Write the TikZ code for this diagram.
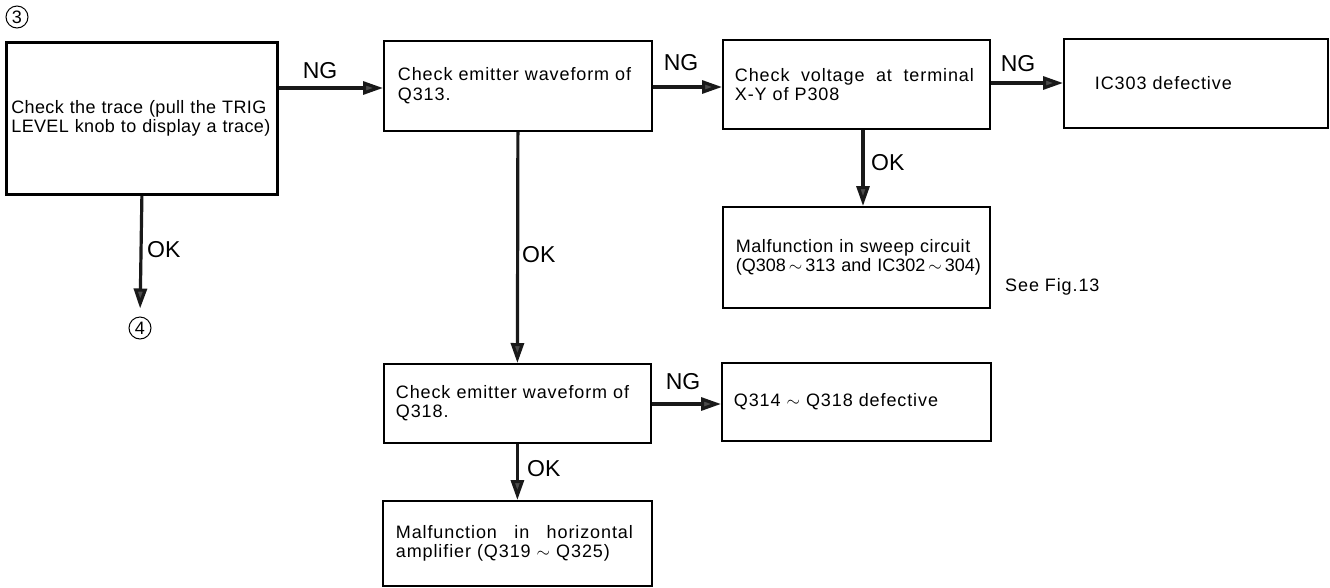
\documentclass[tikz,border=0pt]{standalone}
\usepackage{fontspec}
\setmainfont{Liberation Sans}
\usetikzlibrary{arrows.meta,positioning}
\newcommand{\boxfont}{\fontsize{18}{19.5}\selectfont\addfontfeature{LetterSpace=5}}
\newcommand{\lblfont}{\fontsize{23}{25}\selectfont}
\newcommand{\lsp}[1]{\addfontfeature{LetterSpace=#1}}
\begin{document}
\begin{tikzpicture}[x=1pt,y=-1pt,
  fbox/.style={draw=black, line width=1.8pt, rectangle, align=left, inner ysep=0pt,
    font=\boxfont, anchor=north west},
  arr/.style={line width=3.2pt, draw=black!90, -{Triangle[length=20pt,width=13pt,fill=black!70]}},
  lbl/.style={font=\lblfont, inner sep=0pt},
  circ/.style={circle, draw=black, line width=1pt, inner sep=0pt, minimum size=22pt, font=\fontsize{18}{18}\selectfont}
]
\useasboundingbox (0,0) rectangle (1330,587);

% boxes
\node[fbox, line width=2.8pt, minimum width=271pt, minimum height=152pt, inner xsep=5pt, text width=261pt]
  (b1) at (5,41) {\lsp{2}Check the trace (pull the TRIG\\LEVEL knob to display a trace)};
\node[fbox, minimum width=268pt, minimum height=90pt, inner xsep=14pt, text width=240pt]
  (b2) at (383,40) {Check emitter waveform of\\Q313.};
\node[fbox, minimum width=267pt, minimum height=89pt, inner xsep=12pt, text width=243pt]
  (b3) at (722,39) {\hbox to 239pt{Check\hfill voltage\hfill at\hfill terminal}\\X-Y of P308};
\node[fbox, minimum width=264pt, minimum height=89pt, inner xsep=31pt, text width=202pt]
  (b4) at (1063,38) {IC303 defective};
\node[fbox, minimum width=267pt, minimum height=101pt, inner xsep=13pt, text width=241pt]
  (b5) at (722,206) {{\lsp{3}Malfunction in sweep circuit}\\\mbox{\lsp{0}(Q308\,$\sim$\,313 and IC302\,$\sim$\,304)}};
\node[fbox, minimum width=267pt, minimum height=79pt, inner xsep=12pt, text width=243pt]
  (b6) at (383,363) {Check emitter waveform of\\Q318.};
\node[fbox, minimum width=269pt, minimum height=78pt, inner xsep=12pt, text width=245pt]
  (b7) at (721,362) {Q314 $\sim$ Q318 defective};
\node[fbox, minimum width=269pt, minimum height=85pt, inner xsep=13pt, text width=243pt]
  (b8) at (382,500) {\hbox to 237pt{Malfunction\hfill in\hfill horizontal}\\amplifier (Q319 $\sim$ Q325)};

% circled references
\node[circ] (c3) at (17,17) {3};
\node[circ] (c4) at (140,328) {4};

% connectors
\draw[arr] (b1.east |- 0,88) -- (b2.west |- 0,88);
\draw[arr] (b2.east |- 0,87) -- (b3.west |- 0,87);
\draw[arr] (b3.east |- 0,83) -- (b4.west |- 0,83);
\draw[arr] (b3.south -| 863,0) -- (b5.north -| 863,0);
\draw[arr] (b2.south) -- (b6.north);
\draw[arr] (b6.east |- 0,404) -- (b7.west |- 0,404);
\draw[arr] (b6.south) -- (b8.north);
\draw[arr, shorten >=8pt] (b1.south) -- (c4.north);

% labels
\node[lbl] (n1) at (320,71) {NG};
\node[lbl] (n2) at (681,63) {NG};
\node[lbl] (n3) at (1018,64) {NG};
\node[lbl] (n4) at (683,382) {NG};
\node[lbl, anchor=west] (o1) at (147,250) {OK};
\node[lbl, anchor=west] (o2) at (522,255) {OK};
\node[lbl, anchor=west] (o3) at (871,163) {OK};
\node[lbl, anchor=west] (o4) at (527,469) {OK};
\node[font=\boxfont, anchor=west, inner sep=0pt] (see) at (1005,287) {See Fig.13};
\end{tikzpicture}
\end{document}
